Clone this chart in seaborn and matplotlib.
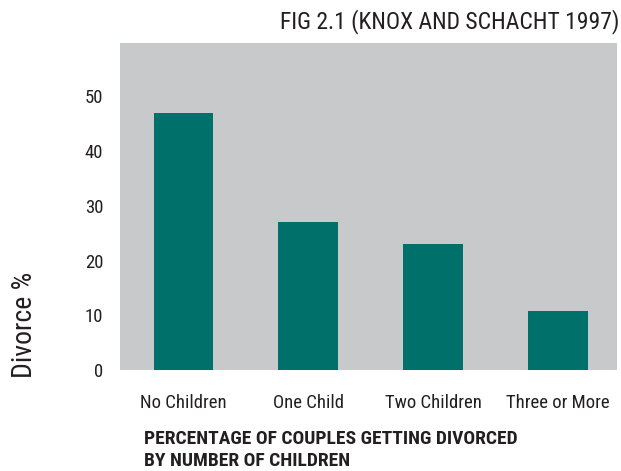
import pandas as pd
import matplotlib
matplotlib.use('Agg')
import matplotlib.pyplot as plt
import seaborn as sns

# --- DATOS ---
categorias = ['No Children', 'One Child', 'Two Children', 'Three or More']
divorcio = [47, 27, 23, 10.8]

df = pd.DataFrame({'children': categorias, 'divorce': divorcio})

sns.set_theme(style="white")
plt.rcParams['font.family'] = ['Liberation Sans Narrow', 'DejaVu Sans Condensed',
                               'Roboto Condensed', 'Open Sans Condensed', 'Roboto']
plt.rcParams['font.stretch'] = 'condensed'

fig = plt.figure(figsize=(6.21, 4.71), dpi=100)
ax = fig.add_axes([0.193, 0.2144, 0.8, 0.694])
ax.set_facecolor('#C8C9CB')

sns.barplot(data=df, x='children', y='divorce', color='#00716A',
            width=0.48, saturation=1, linewidth=0, ax=ax)

ax.set_xlim(-0.51, 3.47)
ax.set_ylim(0, 59.7)
ax.set_yticks([0, 10, 20, 30, 40, 50])
ax.tick_params(axis='both', length=0, labelsize=13.5, colors='#231F20')
ax.tick_params(axis='x', pad=17)
ax.tick_params(axis='y', pad=12)
for s in ax.spines.values():
    s.set_visible(False)
ax.set_xlabel('')
ax.set_ylabel('')

fig.text(0.04, 0.198, 'Divorce %', rotation=90, fontsize=20,
         color='#231F20', ha='center', va='bottom')
fig.text(0.998, 0.955, 'FIG 2.1 (KNOX AND SCHACHT 1997)', fontsize=17,
         color='#231F20', ha='right', va='center')
fig.text(0.232, 0.0446, 'PERCENTAGE OF COUPLES GETTING DIVORCED\nBY NUMBER OF CHILDREN',
         fontsize=14, fontweight='bold', color='#231F20', ha='left',
         va='center', linespacing=1.3)

fig.savefig('out.png', dpi=100)
